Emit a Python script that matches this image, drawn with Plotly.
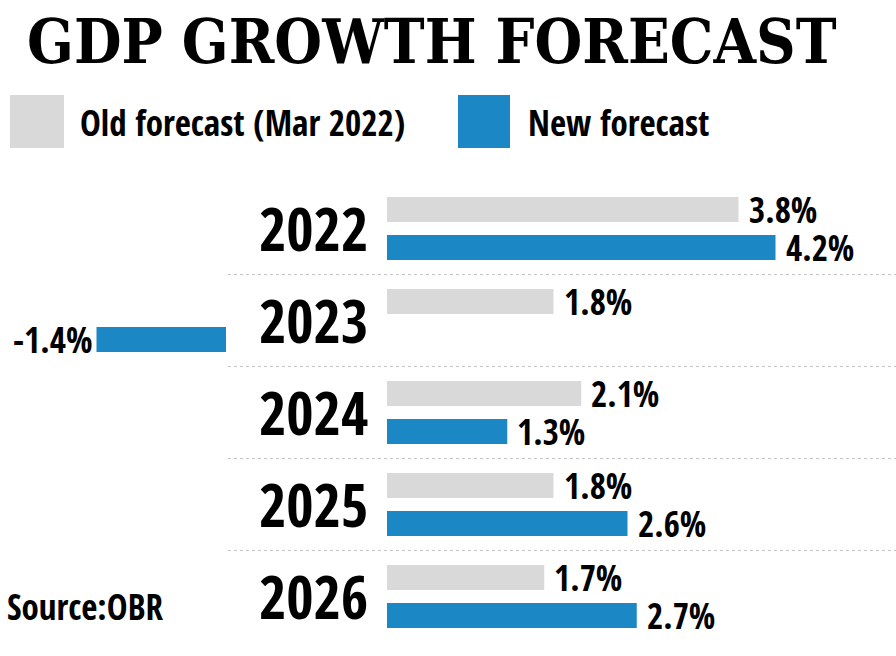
import plotly.graph_objects as go

# ---- data ----
years = ["2022", "2023", "2024", "2025", "2026"]
old_forecast = [3.8, 1.8, 2.1, 1.8, 1.7]
new_forecast = [4.2, -1.4, 1.3, 2.6, 2.7]
title_text = "GDP GROWTH FORECAST"
legend_labels = ["Old forecast (Mar 2022)", "New forecast"]
source_text = "Source:OBR"

# ---- style ----
W, H = 896, 656
GREY = "#d9d9d9"
BLUE = "#1b87c5"
LABEL_FONT = "Open Sans Condensed, Roboto Condensed, DejaVu Sans Condensed, sans-serif"
TITLE_FONT = "DejaVu Serif Condensed, DejaVu Serif, serif"
PX_PER_UNIT = 92.5
ZERO_PX = 387
NEG_ZERO_PX = 226
BAR_W = 0.272
VAL_SIZE = 35


def py(px):
    return 1 - px / H


def lbl(size):
    return dict(family=LABEL_FONT, size=size, color="#000000", weight=700)


new_pos = [v if v >= 0 else None for v in new_forecast]
new_neg = [v if v < 0 else None for v in new_forecast]

fig = go.Figure()
fig.add_trace(go.Bar(y=years, x=old_forecast, orientation="h", marker=dict(color=GREY, line=dict(width=0)),
                     width=BAR_W, offset=-0.342, name=legend_labels[0], showlegend=False, hoverinfo="skip"))
fig.add_trace(go.Bar(y=years, x=new_pos, orientation="h", marker=dict(color=BLUE, line=dict(width=0)),
                     width=BAR_W, offset=0.07, name=legend_labels[1], showlegend=False, hoverinfo="skip"))
fig.add_trace(go.Bar(y=years, x=new_neg, orientation="h", marker=dict(color=BLUE, line=dict(width=0)),
                     width=BAR_W, offset=0.07, xaxis="x2", yaxis="y", showlegend=False, hoverinfo="skip"))

annotations = []
# value labels (y given as category index)
for i, v in enumerate(old_forecast):
    annotations.append(dict(x=v, y=i, xref="x", yref="y", text=f"{v:.1f}%", showarrow=False,
                            xanchor="left", yanchor="middle", xshift=8, yshift=19, font=lbl(VAL_SIZE)))
for i, v in enumerate(new_forecast):
    if v >= 0:
        annotations.append(dict(x=v, y=i, xref="x", yref="y", text=f"{v:.1f}%", showarrow=False,
                                xanchor="left", yanchor="middle", xshift=8, yshift=-19, font=lbl(VAL_SIZE)))
    else:
        annotations.append(dict(x=v, y=i, xref="x2", yref="y", text=f"{v:.1f}%", showarrow=False,
                                xanchor="right", yanchor="middle", xshift=-3, yshift=-19, font=lbl(VAL_SIZE)))
# year labels
for i, yr in enumerate(years):
    annotations.append(dict(x=0, y=i, xref="x", yref="y", text=yr, showarrow=False,
                            xanchor="right", yanchor="middle", xshift=-17, yshift=1, font=lbl(59)))
# title
annotations.append(dict(x=432 / W, y=py(42), xref="paper", yref="paper", text=title_text, showarrow=False,
                        xanchor="center", yanchor="middle",
                        font=dict(family=TITLE_FONT, size=61, color="#000000", weight="bold")))
# legend texts
annotations.append(dict(x=78 / W, y=py(122), xref="paper", yref="paper", text=legend_labels[0], showarrow=False,
                        xanchor="left", yanchor="middle", font=lbl(35)))
annotations.append(dict(x=526 / W, y=py(122), xref="paper", yref="paper", text=legend_labels[1], showarrow=False,
                        xanchor="left", yanchor="middle", font=lbl(35)))
# source
annotations.append(dict(x=5 / W, y=py(606), xref="paper", yref="paper", text=source_text, showarrow=False,
                        xanchor="left", yanchor="middle", font=lbl(35)))

x_range = [-ZERO_PX / PX_PER_UNIT, (W - ZERO_PX) / PX_PER_UNIT]
shapes = [
    dict(type="rect", xref="paper", yref="paper", x0=10 / W, x1=64 / W, y0=py(148), y1=py(95),
         fillcolor=GREY, line=dict(width=0)),
    dict(type="rect", xref="paper", yref="paper", x0=458 / W, x1=510 / W, y0=py(148), y1=py(95),
         fillcolor=BLUE, line=dict(width=0)),
]
# dotted separators between year rows
for i in range(len(years) - 1):
    shapes.append(dict(type="line", xref="x", yref="y", x0=x_range[0], x1=x_range[1], y0=i + 0.5, y1=i + 0.5,
                       line=dict(color="#c4c4c4", width=1.2, dash="dot"), layer="below"))

top_px = 182.5
bottom_px = 642.5
fig.update_layout(
    width=W, height=H,
    margin=dict(l=0, r=0, t=0, b=0),
    paper_bgcolor="white", plot_bgcolor="white",
    barmode="overlay",
    hovermode=False,
    xaxis=dict(domain=[0, 1], range=x_range, visible=False, fixedrange=True),
    xaxis2=dict(domain=[0, NEG_ZERO_PX / W], range=[-NEG_ZERO_PX / PX_PER_UNIT, 0],
                anchor="y", visible=False, fixedrange=True),
    yaxis=dict(domain=[py(bottom_px), py(top_px)], range=[len(years) - 0.5, -0.5],
               type="category", visible=False, fixedrange=True),
    annotations=annotations,
    shapes=shapes,
    showlegend=False,
)

fig.write_html("out.html", config={"displayModeBar": False},
               post_script="document.body.style.margin='0px';")
